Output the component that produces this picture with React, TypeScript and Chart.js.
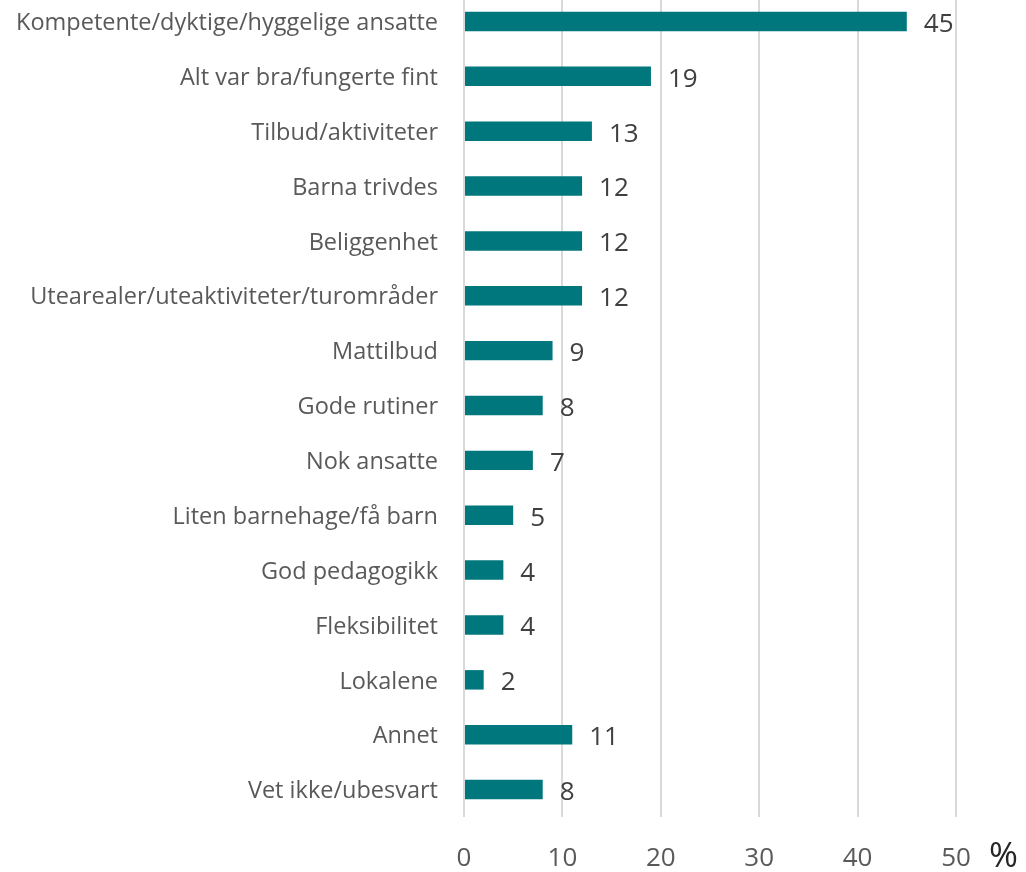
import React, { useEffect, useRef } from "react";
import { Chart, registerables } from "chart.js";

Chart.register(...registerables);

const categories = [
  "Kompetente/dyktige/hyggelige ansatte",
  "Alt var bra/fungerte fint",
  "Tilbud/aktiviteter",
  "Barna trivdes",
  "Beliggenhet",
  "Utearealer/uteaktiviteter/turområder",
  "Mattilbud",
  "Gode rutiner",
  "Nok ansatte",
  "Liten barnehage/få barn",
  "God pedagogikk",
  "Fleksibilitet",
  "Lokalene",
  "Annet",
  "Vet ikke/ubesvart",
];
const values = [45, 19, 13, 12, 12, 12, 9, 8, 7, 5, 4, 4, 2, 11, 8];
const xTicks = [0, 10, 20, 30, 40, 50];
const unitLabel = "%";

const FONT = "'Open Sans', sans-serif";

const extrasPlugin = {
  id: "extras",
  afterDatasetsDraw(chart: any) {
    const ctx = chart.ctx;
    const meta = chart.getDatasetMeta(0);
    ctx.save();
    ctx.fillStyle = "#404040";
    ctx.font = `26px ${FONT}`;
    ctx.textBaseline = "middle";
    ctx.textAlign = "left";
    meta.data.forEach((bar: any, i: number) => {
      ctx.fillText(String(values[i]), bar.x + 17, bar.y + 3);
    });
    const area = chart.chartArea;
    ctx.font = `35px ${FONT}`;
    ctx.fillStyle = "#262626";
    ctx.fillText(unitLabel, area.right + 33, area.bottom + 40);
    ctx.restore();
  },
};

export default function App() {
  const ref = useRef<HTMLCanvasElement | null>(null);
  useEffect(() => {
    if (!ref.current) return;
    const chart = new Chart(ref.current, {
      type: "bar",
      data: {
        labels: categories,
        datasets: [
          {
            data: values,
            backgroundColor: "#00777D",
            borderWidth: 0,
            barPercentage: 0.71,
            categoryPercentage: 0.5,
          },
        ],
      },
      options: {
        indexAxis: "y",
        animation: false,
        responsive: false,
        maintainAspectRatio: false,
        layout: { padding: { left: 0, right: 70, top: 0, bottom: 0 } },
        plugins: { legend: { display: false }, tooltip: { enabled: false } },
        scales: {
          x: {
            min: 0,
            max: 50,
            afterBuildTicks: (s: any) => {
              s.ticks = xTicks.map((v) => ({ value: v }));
            },
            afterFit: (s: any) => {
              s.height = 55;
              s.paddingLeft = 0;
              s.paddingRight = 0;
            },
            grid: { color: "#d9d9d9", lineWidth: 2, drawTicks: false },
            border: { display: false },
            ticks: {
              color: "#595959",
              font: { family: FONT, size: 26 },
              padding: 26,
            },
          },
          y: {
            afterFit: (s: any) => {
              s.width = 464;
              s.paddingTop = 0;
              s.paddingBottom = 0;
            },
            grid: { display: false, drawTicks: false },
            border: { display: false },
            ticks: {
              color: "#595959",
              font: { family: FONT, size: 23.5 },
              padding: 26,
              labelOffset: 2,
            },
          },
        },
      },
      plugins: [extrasPlugin],
    });
    return () => chart.destroy();
  }, []);
  return (
    <div style={{ position: "absolute", left: 0, top: -6, width: 1026, height: 878 }}>
      <canvas ref={ref} width={1026} height={878} style={{ display: "block" }} />
    </div>
  );
}
